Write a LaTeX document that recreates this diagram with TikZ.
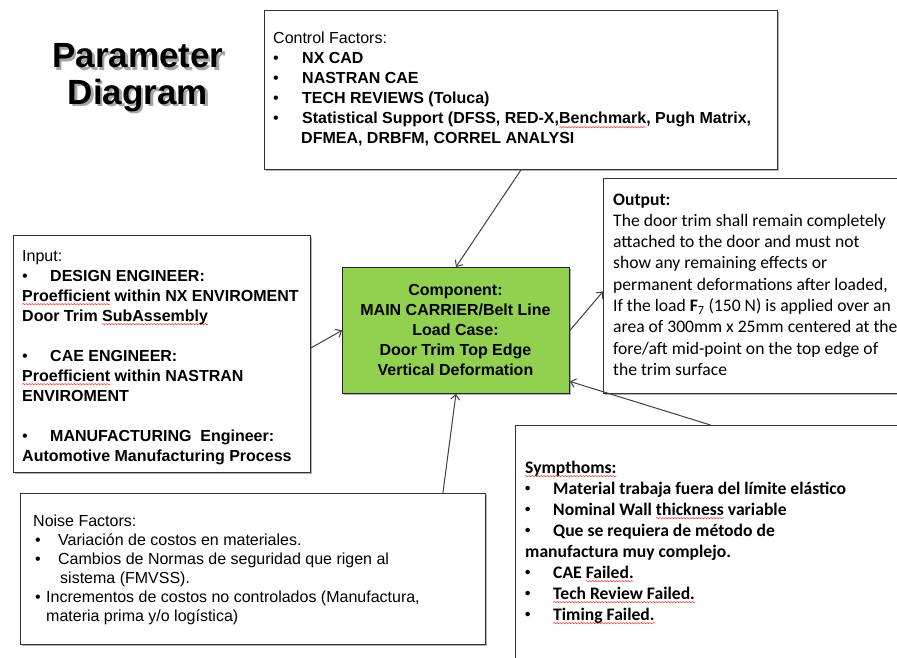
\documentclass[tikz,border=0pt]{standalone}
\usepackage{fontspec}
\setmainfont{Liberation Sans}
\newfontfamily\calib{Carlito}
\usetikzlibrary{arrows.meta,shadows,decorations.pathmorphing}
\definecolor{compgreen}{HTML}{92D050}
\newsavebox\rwbox
\newlength\rwd
\newcommand\rwave[1]{\sbox\rwbox{#1}\setlength\rwd{\wd\rwbox}%
  \rlap{\tikz[overlay,baseline=0pt]\draw[red!80, line width=0.5pt, decorate,
    decoration={snake, amplitude=0.7pt, segment length=3pt}] (0pt,-3.2pt) -- (\rwd,-3.2pt);}%
  \usebox\rwbox}
\newcommand\pbul[1]{\makebox[#1][l]{•}}
\newcommand\cbul[1]{\makebox[#1][l]{\raisebox{0.12em}{\scalebox{0.6}{•}}}}
\newcommand\shtxt[1]{\rlap{\hspace{2.5pt}\raisebox{-2.5pt}{\textcolor{black!35}{#1}}}#1}
\begin{document}
\begin{tikzpicture}[x=1pt,y=-1pt,
  box/.style={draw=black!80, line width=0.9pt, fill=white, inner sep=0pt, anchor=north west,
    drop shadow={shadow xshift=2pt,shadow yshift=-2pt,opacity=0.3,fill=black}},
  txt/.style={inner sep=0pt, anchor=base west},
  conn/.style={draw=black!75, line width=1pt, -{Straight Barb[length=5pt,width=9pt]}}]
\useasboundingbox (0,0) rectangle (897,658);
\fill[white] (0,0) rectangle (897,658);
\clip (0,0) rectangle (897,658);

% boxes
\node[box, minimum width=513pt, minimum height=159pt] (ctrl) at (264,10) {};
\node[box, minimum width=297pt, minimum height=237pt] (input) at (13,235) {};
\node[box, fill=compgreen, draw=black!85, minimum width=227pt, minimum height=126pt] (comp) at (342,267) {};
\node[box, minimum width=302pt, minimum height=215pt] (output) at (603,178) {};
\node[box, minimum width=465pt, minimum height=151pt] (noise) at (20,493) {};
\node[box, minimum width=390pt, minimum height=245pt] (sym) at (515,425) {};

% connectors
\draw[conn] (ctrl.south) -- (comp.north);
\draw[conn] ([yshift=6pt]input.east) -- (comp.west);
\draw[conn] (comp.east) -- ([yshift=-5.5pt]output.west);
\draw[conn] (sym.north) -- ([yshift=-51pt]comp.east);
\draw[conn] ([xshift=-43pt]noise.north east) -- (comp.south);

% title (with its shadow)
\node[anchor=base, inner sep=0pt] (title) at (138,68)
  {\fontsize{35}{36}\selectfont\bfseries\begin{tabular}[t]{@{}c@{}}\shtxt{Parameter}\\\shtxt{Diagram}\end{tabular}};

% texts
\node[txt] (ctrltext) at (273,44) {\fontsize{16}{20}\selectfont\begin{tabular}[t]{@{}l@{}}
Control Factors:\\
\pbul{29pt}\textbf{NX CAD}\\
\pbul{29pt}\textbf{NASTRAN CAE}\\
\pbul{29pt}\textbf{TECH REVIEWS (Toluca)}\\
\pbul{29pt}\textbf{Statistical Support (DFSS, RED-X,\rwave{Benchmark}, Pugh Matrix,}\\
\hspace{28pt}\textbf{DFMEA, DRBFM, CORREL ANALYSI}
\end{tabular}};

\node[txt] (inputtext) at (22,261) {\fontsize{16}{20}\selectfont\begin{tabular}[t]{@{}l@{}}
Input:\\
\pbul{28pt}\textbf{DESIGN ENGINEER:}\\
\textbf{\rwave{Proefficient} within NX ENVIROMENT}\\
\textbf{Door Trim \rwave{SubAssembly}}\\
\\
\pbul{28pt}\textbf{CAE ENGINEER:}\\
\textbf{\rwave{Proefficient} within NASTRAN}\\
\textbf{ENVIROMENT}\\
\\
\pbul{28pt}\textbf{MANUFACTURING\ \ Engineer:}\\
\textbf{Automotive Manufacturing Process}
\end{tabular}};

\node[anchor=base, inner sep=0pt] (comptext) at (455.5,295.5) {\bfseries\fontsize{16}{20}\selectfont\begin{tabular}[t]{@{}c@{}}
Component:\\MAIN CARRIER/Belt Line\\Load Case:\\Door Trim Top Edge\\Vertical Deformation
\end{tabular}};

\node[txt] (outtext) at (613,205) {\calib\fontsize{17.6}{21.3}\selectfont\begin{tabular}[t]{@{}l@{}}
\textbf{Output:}\\
The door trim shall remain completely\\
attached to the door and must not\\
show any remaining effects or\\
permanent deformations after loaded,\\
If the load \textbf{F}\textsubscript{7} (150 N) is applied over an\\
area of 300mm x 25mm centered at the\\
fore/aft mid-point on the top edge of\\
the trim surface
\end{tabular}};

\node[txt] (noisetext) at (33,526) {\fontsize{16}{19}\selectfont\begin{tabular}[t]{@{}l@{}}
Noise Factors:\\
\hspace{2pt}\makebox[23pt][l]{•}Variación de costos en materiales.\\
\hspace{2pt}\makebox[23pt][l]{•}Cambios de Normas de seguridad que rigen al\\
\hspace{27pt}sistema (FMVSS).\\
\hspace{2pt}\makebox[11pt][l]{•}Incrementos de costos no controlados (Manufactura,\\
\hspace{13pt}materia prima y/o logística)
\end{tabular}};

\node[txt] (symtext) at (525,473) {\calib\bfseries\fontsize{17.6}{21}\selectfont\begin{tabular}[t]{@{}l@{}}
\rwave{Sympthoms:}\\
\cbul{28pt}Material trabaja fuera del límite elástico\\
\cbul{28pt}Nominal Wall \rwave{thickness} variable\\
\cbul{28pt}Que se requiera de método de\\
manufactura muy complejo.\\
\cbul{28pt}CAE \rwave{Failed.}\\
\cbul{28pt}\rwave{Tech Review Failed.}\\
\cbul{28pt}\rwave{Timing Failed.}
\end{tabular}};
\end{tikzpicture}
\end{document}
